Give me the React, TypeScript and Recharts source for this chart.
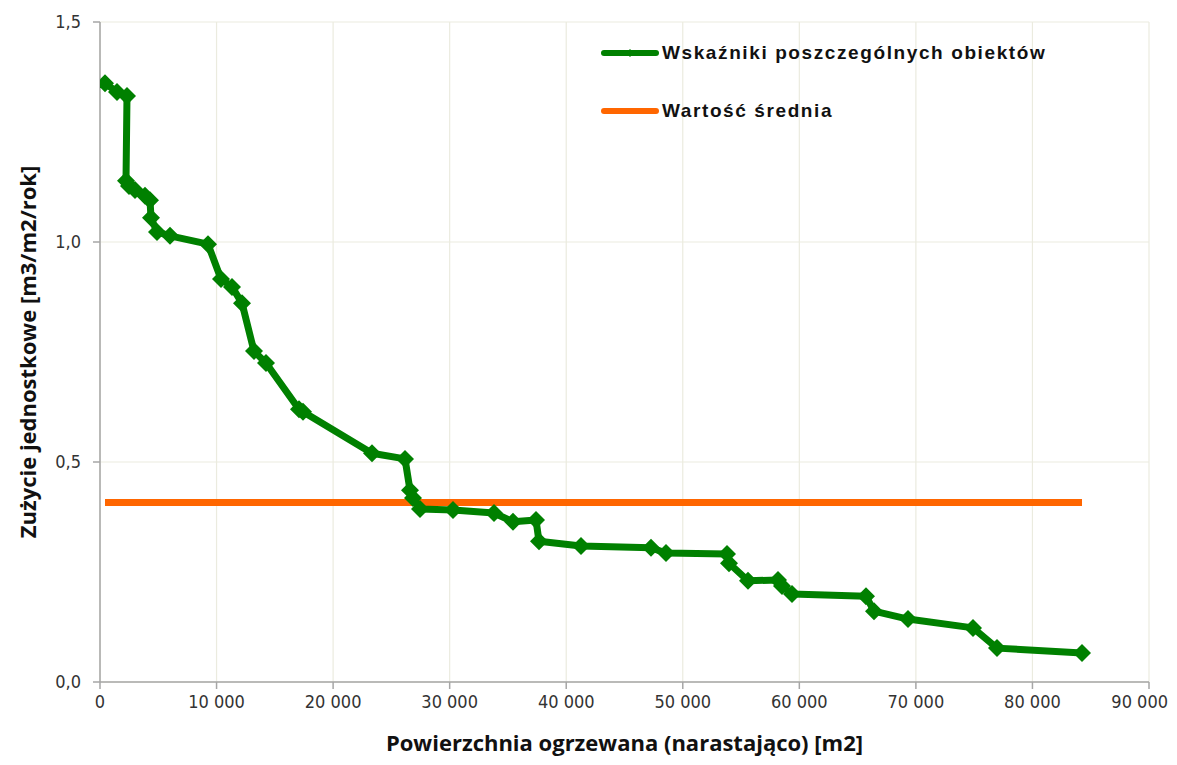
import React from "react"
import { LineChart, Line, XAxis, YAxis, CartesianGrid, Legend } from "recharts"

// cumulative heated area [m2] and unit consumption [m3/m2/year]
const areas = [
  429, 1459, 2316, 2231, 2488, 3003, 3861, 4290, 4376, 4890, 6006, 9266, 10381, 11325, 12183,
  13213, 14242, 17073, 17416, 23336, 26168, 26597, 26854, 27455, 30286, 33804, 35434, 37407,
  37664, 41268, 47274, 48561, 53794, 53966, 55596, 58170, 58513, 59371, 65720, 66406, 69323,
  74900, 76959, 84252,
]
const usage = [
  1.361, 1.341, 1.332, 1.139, 1.127, 1.118, 1.105, 1.095, 1.055, 1.023, 1.014, 0.995, 0.916,
  0.898, 0.861, 0.752, 0.725, 0.62, 0.614, 0.52, 0.507, 0.436, 0.418, 0.393, 0.391, 0.384,
  0.364, 0.368, 0.32, 0.309, 0.305, 0.293, 0.291, 0.27, 0.23, 0.232, 0.218, 0.2, 0.195, 0.161,
  0.143, 0.123, 0.077, 0.066,
]
const average = 0.408

const xTicks = [0, 10000, 20000, 30000, 40000, 50000, 60000, 70000, 80000, 90000]
const yTicks = [0, 0.5, 1, 1.5]

const seriesNames = ["Wskaźniki poszczególnych obiektów", "Wartość średnia"]
const xTitle = "Powierzchnia ogrzewana (narastająco) [m2]"
const yTitle = "Zużycie jednostkowe [m3/m2/rok]"

const GREEN = "#008000"
const ORANGE = "#ff6600"

const points = areas.map((x, i) => ({ x, y: usage[i] }))
const avgLine = [
  { x: areas[0], y: average },
  { x: areas[areas.length - 1], y: average },
]

const tickFont = "'DejaVu Sans Condensed', 'DejaVu Sans', sans-serif"
const titleFont = "'Open Sans', Lato, sans-serif"

const fmtX = (v: number) => (v === 0 ? "0" : `${Math.round(v / 1000)} 000`)
const fmtY = (v: number) => v.toFixed(1).replace(".", ",")

// keeps the last label inside the chart edge
function XTick(props: any) {
  const { x, y, payload, index } = props
  const last = payload.value === xTicks[xTicks.length - 1]
  return (
    <text
      key={index}
      x={last ? x + 19 : x}
      y={y}
      dy="0.71em"
      textAnchor={last ? "end" : "middle"}
      fill="#333"
      fontSize={18}
      fontFamily={tickFont}
    >
      {fmtX(payload.value)}
    </text>
  )
}

function Diamond(props: any) {
  const { cx, cy, index } = props
  if (cx == null || cy == null) return <g key={index} />
  const r = 9
  return (
    <path
      key={index}
      d={`M${cx},${cy - r} L${cx + r},${cy} L${cx},${cy + r} L${cx - r},${cy} Z`}
      fill={GREEN}
    />
  )
}

function LegendBox() {
  const row = (color: string, label: string, marker: boolean, top: number) => (
    <div style={{ position: "absolute", left: 0, top, display: "flex", alignItems: "center" }}>
      <svg width={60} height={12}>
        <line x1={4} y1={6} x2={56} y2={6} stroke={color} strokeWidth={6} strokeLinecap="round" />
        {marker && <path d="M30,2 L34,6 L30,10 L26,6 Z" fill={color} />}
      </svg>
      <span
        style={{
          fontFamily: "'Liberation Sans', Arial, sans-serif",
          fontWeight: "bold",
          fontSize: 19,
          letterSpacing: 1.6,
          color: "#111",
          marginLeft: 2,
        }}
      >
        {label}
      </span>
    </div>
  )
  return (
    <div style={{ position: "relative", width: 540, height: 90 }}>
      {row(GREEN, seriesNames[0], true, 0)}
      {row(ORANGE, seriesNames[1], false, 58)}
    </div>
  )
}

export default function App() {
  return (
    <div style={{ width: 1161, height: 749, background: "#fff" }}>
      <LineChart width={1161} height={749} margin={{ top: 14, right: 20, left: 0, bottom: 0 }}>
        <CartesianGrid stroke="#ebebdf" strokeWidth={1.2} />
        <XAxis
          type="number"
          dataKey="x"
          domain={[0, 90000]}
          ticks={xTicks}
          height={75}
          stroke="#a6a6a6"
          strokeWidth={1.5}
          tickSize={7}
          tickMargin={6}
          tick={<XTick />}
          allowDataOverflow
          label={{
            value: xTitle,
            position: "insideBottom",
            offset: 6,
            style: { fontFamily: titleFont, fontWeight: "bold", fontSize: 22, fill: "#111" },
          }}
        />
        <YAxis
          type="number"
          dataKey="y"
          domain={[0, 1.5]}
          ticks={yTicks}
          tickFormatter={fmtY}
          width={92}
          stroke="#a6a6a6"
          strokeWidth={1.5}
          tickSize={7}
          tickMargin={12}
          tick={{ fill: "#333", fontSize: 18, fontFamily: tickFont }}
          label={{
            content: (p: any) => {
              const vb = p.viewBox || { x: 0, y: 14, width: 92, height: 660 }
              const cy = vb.y + vb.height / 2
              return (
                <text
                  x={19}
                  y={cy}
                  transform={`rotate(-90 19 ${cy})`}
                  textAnchor="middle"
                  dominantBaseline="central"
                  style={{ fontFamily: titleFont, fontWeight: "bold", fontSize: 22, fill: "#111" }}
                >
                  {yTitle}
                </text>
              )
            },
          }}
        />
        <Legend
          layout="vertical"
          align="center"
          verticalAlign="middle"
          content={() => <LegendBox />}
          wrapperStyle={{ top: 34, left: 592, width: 540 }}
        />
        <Line
          data={avgLine}
          dataKey="y"
          type="linear"
          stroke={ORANGE}
          strokeWidth={7}
          dot={false}
          activeDot={false}
          isAnimationActive={false}
        />
        <Line
          data={points}
          dataKey="y"
          type="linear"
          stroke={GREEN}
          strokeWidth={7}
          strokeLinejoin="round"
          dot={<Diamond />}
          activeDot={false}
          isAnimationActive={false}
        />
      </LineChart>
    </div>
  )
}
